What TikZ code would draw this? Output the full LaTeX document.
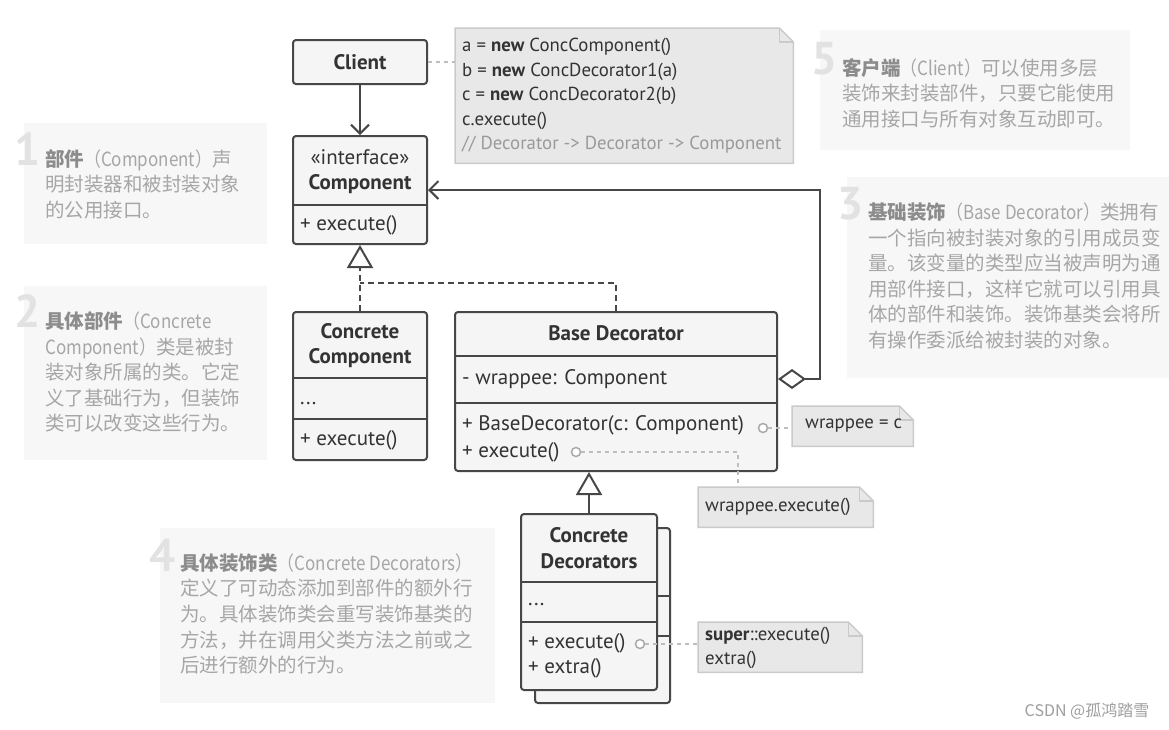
\documentclass[tikz,border=0pt]{standalone}
\usepackage{fontspec}
\usepackage{graphicx}
\setmainfont{PT Sans}
\newfontfamily\cjk{Noto Sans CJK SC}
\newfontfamily\cjkn[FakeStretch=0.87]{Noto Sans CJK SC}
\usetikzlibrary{arrows.meta,calc}
\definecolor{clsline}{HTML}{474747}
\definecolor{clsfill}{HTML}{F5F5F5}
\definecolor{txtc}{HTML}{333333}
\definecolor{notefill}{HTML}{E8E8E8}
\definecolor{noteline}{HTML}{CACACA}
\definecolor{cmtc}{HTML}{9A9A9A}
\definecolor{linkc}{HTML}{BDBDBD}
\definecolor{dotc}{HTML}{AAAAAA}
\definecolor{annfill}{HTML}{F7F7F7}
\definecolor{annc}{HTML}{A6A6A6}
\definecolor{annb}{HTML}{8C8C8C}
\definecolor{digc}{HTML}{E2E2E2}
\definecolor{wmc}{HTML}{9E9E9E}
\newcommand\notefold[1]{%
  \draw[draw=noteline, line width=1.5pt, fill=notefill] (#1.north west) -- ($(#1.north east)+(-14,0)$) -- ($(#1.north east)+(0,14)$) -- (#1.south east) -- (#1.south west) -- cycle;
  \draw[draw=noteline, line width=1.5pt] ($(#1.north east)+(-14,0)$) -- ($(#1.north east)+(-14,14)$) -- ($(#1.north east)+(0,14)$);}
\newcommand\lat[1]{{\cjkn #1}}
\begin{document}
\begin{tikzpicture}[x=1pt,y=-1pt,
  cls/.style={draw=clsline, fill=clsfill, line width=2pt, rounded corners=3pt, inner sep=0pt},
  sep/.style={draw=clsline, line width=2pt},
  txt/.style={font=\fontsize{21}{25}\selectfont, text=txtc, inner sep=0pt},
  btxt/.style={font=\bfseries\fontsize{21}{25}\selectfont, text=txtc, inner sep=0pt},
  ltxt/.style={txt, anchor=west},
  notebox/.style={draw=none, fill=none, inner sep=0pt, anchor=north west},
  notetxt/.style={font=\fontsize{18.8}{24.5}\selectfont, text=txtc, align=left, inner sep=0pt, anchor=west},
  link/.style={draw=linkc, line width=2pt, dash pattern=on 4pt off 4pt},
  dot/.style={circle, draw=dotc, line width=1.5pt, fill=white, minimum size=9pt, inner sep=0pt},
  dep/.style={draw=clsline, line width=2pt, dash pattern=on 6pt off 4pt},
  solid line/.style={draw=clsline, line width=2pt},
  gen/.style={-{Triangle[open, length=23pt, width=26pt, line width=2pt]}},
  ann/.style={fill=annfill, inner sep=0pt, anchor=north west},
  anntxt/.style={font=\cjk\fontsize{19.5}{25.6}\selectfont, text=annc, align=left, anchor=west, inner sep=0pt},
  digit/.style={font=\bfseries\fontsize{46}{50}\selectfont, text=digc, anchor=base east, inner sep=0pt}]
\useasboundingbox (0,0) rectangle (1169,729);
\fill[white] (0,0) rectangle (1169,729);

% ---------- annotations ----------
\node[ann, minimum width=243pt, minimum height=121pt] (a1) at (24,123) {};
\node[digit] (a1d) at (41,165) {1};
\node[anntxt] (a1t) at (45,184) {\textcolor{annb}{\textbf{部件}}\lat{（Component）}声\\明封装器和被封装对象\\的公用接口。};

\node[ann, minimum width=243pt, minimum height=174pt] (a2) at (24,286) {};
\node[digit] (a2d) at (41,327) {2};
\node[anntxt] (a2t) at (45,372) {\textcolor{annb}{\textbf{具体部件}}\lat{（Concrete}\\\lat{Component）}类是被封\\装对象所属的类。它定\\义了基础行为，但装饰\\类可以改变这些行为。};

\node[ann, minimum width=322pt, minimum height=201pt] (a3) at (847,177) {};
\node[digit] (a3d) at (864,219) {3};
\node[anntxt] (a3t) at (868,276) {\textcolor{annb}{\textbf{基础装饰}}\lat{（Base Decorator）}类拥有\\一个指向被封装对象的引用成员变\\量。该变量的类型应当被声明为通\\用部件接口，这样它就可以引用具\\体的部件和装饰。装饰基类会将所\\有操作委派给被封装的对象。};

\node[ann, minimum width=335pt, minimum height=175pt] (a4) at (160,528) {};
\node[digit] (a4d) at (176,571) {4};
\node[anntxt] (a4t) at (180,614) {\textcolor{annb}{\textbf{具体装饰类}}\lat{（Concrete Decorators）}\\定义了可动态添加到部件的额外行\\为。具体装饰类会重写装饰基类的\\方法，并在调用父类方法之前或之\\后进行额外的行为。};

\node[ann, minimum width=310pt, minimum height=120pt] (a5) at (820,30) {};
\node[digit] (a5d) at (838,74) {5};
\node[anntxt] (a5t) at (842,93) {\textcolor{annb}{\textbf{客户端}}\lat{（Client）}可以使用多层\\装饰来封装部件，只要它能使用\\通用接口与所有对象互动即可。};

% ---------- notes ----------
\node[notebox, minimum width=338pt, minimum height=135pt] (n1) at (455,28) {};
\notefold{n1}
\node[notetxt] (n1t) at (462,96) {a = \textbf{new} ConcComponent()\\b = \textbf{new} ConcDecorator1(a)\\c = \textbf{new} ConcDecorator2(b)\\c.execute()\\\textcolor{cmtc}{// Decorator -> Decorator -> Component}};

\node[notebox, minimum width=121pt, minimum height=40pt] (n2) at (792,406) {};
\notefold{n2}
\node[notetxt] (n2t) at (805,426) {wrappee = c};

\node[notebox, minimum width=175pt, minimum height=40pt] (n3) at (698,487) {};
\notefold{n3}
\node[notetxt] (n3t) at (705,507) {wrappee.execute()};

\node[notebox, minimum width=164pt, minimum height=50pt] (n4) at (698,622) {};
\notefold{n4}
\node[notetxt] (n4t) at (705,648) {\textbf{super}::execute()\\extra()};

% ---------- classes ----------
\node[cls, btxt, minimum width=134pt, minimum height=44pt] (client) at (360,62) {Client};

\node[cls, minimum width=134pt, minimum height=108pt] (comp) at (360,190) {};
\node[txt] (compS) at (360,157) {«interface»};
\node[btxt] (compN) at (360,184) {Component};
\draw[sep] (comp.west |- 0,205) -- (comp.east |- 0,205);
\node[ltxt] (compM) at (300,225) {+ execute()};

\node[cls, minimum width=134pt, minimum height=148pt] (cc) at (360,386) {};
\node[btxt] (ccN1) at (360,331) {Concrete};
\node[btxt] (ccN2) at (360,358) {Component};
\draw[sep] (cc.west |- 0,378) -- (cc.east |- 0,378);
\node[ltxt] (ccF) at (300,404) {...};
\draw[sep] (cc.west |- 0,419) -- (cc.east |- 0,419);
\node[ltxt] (ccM) at (300,440) {+ execute()};

\node[cls, minimum width=322pt, minimum height=159pt] (bd) at (616,391.5) {};
\node[btxt] (bdN) at (616,333) {Base Decorator};
\draw[sep] (bd.west |- 0,356) -- (bd.east |- 0,356);
\node[ltxt] (bdF) at (462,379) {- wrappee: Component};
\draw[sep] (bd.west |- 0,403) -- (bd.east |- 0,403);
\node[ltxt] (bdM1) at (462,425) {+ BaseDecorator(c: Component)};
\node[ltxt] (bdM2) at (462,452) {+ execute()};

\node[cls, minimum width=135pt, minimum height=175pt] (cdb) at (602.5,615.5) {};
\draw[sep] (cdb.west |- 0,596) -- (cdb.east |- 0,596);
\draw[sep] (cdb.west |- 0,636) -- (cdb.east |- 0,636);
\node[cls, minimum width=136pt, minimum height=176pt] (cd) at (589,602) {};
\node[btxt] (cdN1) at (589,535) {Concrete};
\node[btxt] (cdN2) at (589,561) {Decorators};
\draw[sep] (cd.west |- 0,582) -- (cd.east |- 0,582);
\node[ltxt] (cdF) at (528,605) {...};
\draw[sep] (cd.west |- 0,622) -- (cd.east |- 0,622);
\node[ltxt] (cdM1) at (528,643) {+ execute()};
\node[ltxt] (cdM2) at (528,668) {+ extra()};

% ---------- connectors ----------
\draw[solid line, -{Straight Barb[length=9pt, width=18pt, line width=2pt]}] (client.south) -- (comp.north);
\coordinate (j1) at (comp.south |- 0,283);
\coordinate (j2) at (bd.north |- 0,283);
\draw[dep, gen] (cc.north) -- (comp.south);
\draw[dep] (bd.north) -- (j2) -- (j1);
\draw[solid line, {Diamond[open, length=28pt, width=20pt, line width=2pt]}-{Straight Barb[length=9pt, width=18pt, line width=2pt]}] (bd.east |- 0,379) -- (820,379) -- (820,190) -- (comp.east);
\draw[solid line, gen] (cd.north) -- (cd.north |- bd.south);

\draw[link] (client.east) -- (client.east -| n1.west);
\node[dot] (d1) at (763,428) {};
\draw[link] (d1) -- (d1 -| n2.west);
\node[dot] (d2) at (576,452) {};
\draw[link] (d2) -| ($(n3.north west)+(40,0)$);
\node[dot] (d3) at (640,644) {};
\draw[link] (d3) -- (d3 -| n4.west);

\node[font=\cjk\fontsize{16}{16}\selectfont, text=wmc, inner sep=0pt] (wm) at (1087,711) {CSDN @孤鸿踏雪};
\end{tikzpicture}
\end{document}
